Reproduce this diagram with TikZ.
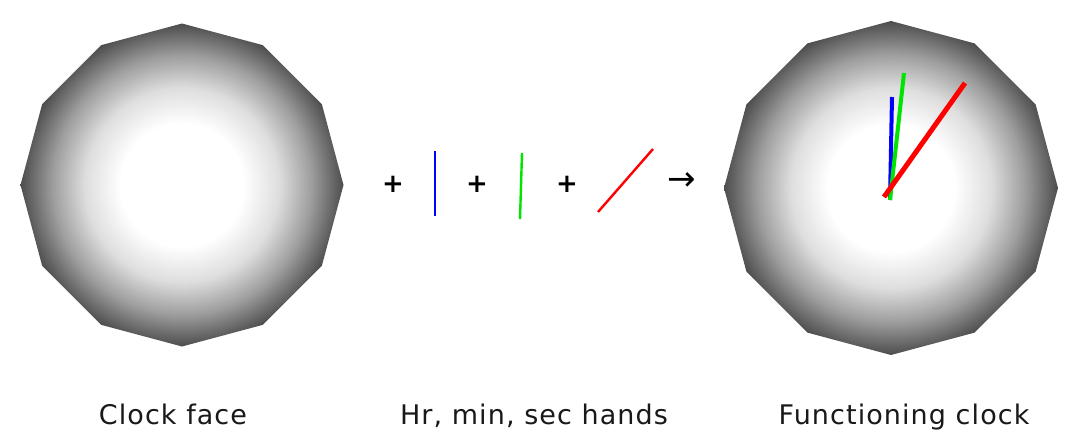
\documentclass[tikz,border=0pt]{standalone}
\usepackage{fontspec}
\setmainfont{DejaVu Sans}
\usetikzlibrary{shapes.geometric}

\pgfdeclareradialshading{clockshade}{\pgfpoint{0bp}{0bp}}{%
  color(0bp)=(white); color(9.5bp)=(white); color(15bp)=(black!13);
  color(20bp)=(black!38); color(25bp)=(black!70); color(50bp)=(black!75)}

\tikzset{
  face/.style={regular polygon,regular polygon sides=12,shape border rotate=15,
    inner sep=0pt,shading=clockshade},
  sign/.style={inner sep=0pt,font=\fontsize{26}{30}\selectfont\bfseries},
  label/.style={anchor=base,inner sep=0pt,
    font=\fontsize{27}{30}\selectfont\addfontfeatures{LetterSpace=4},text=black!90},
  hrhand/.style={draw=blue,line width=2.6pt},
  minhand/.style={draw=green!90!black,line width=2.4pt},
  sechand/.style={draw=red,line width=2.4pt}
}

\begin{document}
\begin{tikzpicture}[x=1pt,y=-1pt]
\useasboundingbox (0,0) rectangle (1074,431);
\node[face,minimum size=323pt] at (182,185) (face1) {};
\node[face,minimum size=334pt] at (891,188) (face2) {};
% the three hands on their own
\node[sign] at (393,184) (plus1) {+};
\draw[hrhand] (435,151) -- (435,216);
\node[sign] at (477,184) (plus2) {+};
\draw[minhand] (522,153) -- (520,219);
\node[sign] at (567,184) (plus3) {+};
\draw[sechand] (598,212) -- (653,149);
\node[sign,font=\fontsize{34}{36}\selectfont] at (682,182) (gives) {→};
% hands on the clock
\draw[hrhand,line width=4pt] (890,200) -- (892,97);
\draw[minhand,line width=4pt] (890,200) -- (904,73);
\draw[sechand,line width=5pt] (884,197) -- (965,83);
\node[label] at (173,424) (cap1) {Clock face};
\node[label] at (534,424) (cap2) {Hr, min, sec hands};
\node[label] at (904,424) (cap3) {Functioning clock};
\end{tikzpicture}
\end{document}
